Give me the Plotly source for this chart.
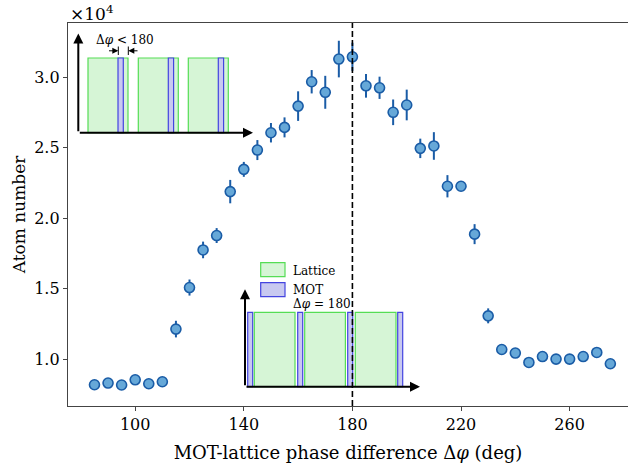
import plotly.graph_objects as go

# ---------------- data ----------------
phase_deg = [85, 90, 95, 100, 105, 110, 115, 120, 125, 130, 135, 140, 145, 150, 155,
             160, 165, 170, 175, 180, 185, 190, 195, 200, 205, 210, 215, 220, 225,
             230, 235, 240, 245, 250, 255, 260, 265, 270, 275]
atom_number_1e4 = [0.818, 0.830, 0.816, 0.853, 0.825, 0.839, 1.213, 1.508, 1.775, 1.877,
                   2.189, 2.347, 2.484, 2.607, 2.645, 2.796, 2.969, 2.894, 3.130, 3.146,
                   2.940, 2.926, 2.752, 2.804, 2.496, 2.513, 2.227, 2.227, 1.887, 1.307,
                   1.068, 1.043, 0.976, 1.018, 1.000, 1.000, 1.018, 1.047, 0.967]
atom_err_1e4 = [0.02, 0.02, 0.02, 0.02, 0.02, 0.02, 0.059, 0.057, 0.059, 0.053,
                0.083, 0.053, 0.071, 0.069, 0.071, 0.105, 0.083, 0.117, 0.130, 0.100,
                0.084, 0.079, 0.091, 0.109, 0.069, 0.098, 0.079, 0.025, 0.071, 0.053,
                0.02, 0.02, 0.02, 0.02, 0.02, 0.02, 0.02, 0.02, 0.02]
x_ticks = [100, 140, 180, 220, 260]
y_ticks = [1.0, 1.5, 2.0, 2.5, 3.0]
resonance_deg = 180

# ---------------- layout geometry (pixels) ----------------
W, H = 628, 470
L, T, B = 68, 23, 64
PW, PH = W - L, H - T - B

FONT = "DejaVu Serif"
MARK_FILL = "#66a8d8"
MARK_EDGE = "#1a5ca6"
GREEN_FILL = "#d6f5d6"
GREEN_EDGE = "#55dd55"
BLUE_FILL = "#c8c9f0"
BLUE_EDGE = "#4444e0"


def px(xp):
    return (xp - L) / PW


def py(yp):
    return (H - B - yp) / PH


fig = go.Figure()
fig.add_trace(go.Scatter(
    x=phase_deg, y=atom_number_1e4, mode="markers",
    error_y=dict(type="data", array=atom_err_1e4, visible=True,
                 color=MARK_EDGE, thickness=2, width=0),
    marker=dict(size=10, color=MARK_FILL, line=dict(color=MARK_EDGE, width=1.6)),
    showlegend=False, hoverinfo="skip",
))

shapes = []
annotations = []

# dashed resonance line
shapes.append(dict(type="line", xref="x", yref="paper", x0=resonance_deg, x1=resonance_deg,
                   y0=0, y1=1, line=dict(color="black", width=1.6, dash="6px,3px"), layer="above"))


def rect(x0, x1, y0, y1, fill, edge):
    shapes.append(dict(type="rect", xref="paper", yref="paper",
                       x0=px(x0), x1=px(x1), y0=py(y1), y1=py(y0),
                       fillcolor=fill, line=dict(color=edge, width=1.2), layer="below"))


def seg(x0, y0, x1, y1, w=1.0, layer="below"):
    shapes.append(dict(type="line", xref="paper", yref="paper",
                       x0=px(x0), x1=px(x1), y0=py(y0), y1=py(y1),
                       line=dict(color="black", width=w), layer=layer))


def arrow(tx, ty, fx, fy, w=1.8, size=1.0, head=2):
    annotations.append(dict(xref="paper", yref="paper", x=px(tx), y=py(ty),
                            ax=fx - tx, ay=fy - ty,
                            showarrow=True, arrowhead=head, arrowsize=size,
                            arrowwidth=w, arrowcolor="black", text=""))


def label(text, xp, yp, size=12, xanchor="left"):
    annotations.append(dict(xref="paper", yref="paper", x=px(xp), y=py(yp), text=text,
                            showarrow=False, xanchor=xanchor, yanchor="middle",
                            font=dict(family=FONT, size=size, color="black")))


# ---- top-left inset (Δφ < 180) ----
base1, top1 = 132.7, 58
for g0 in (88, 138.3, 188.3):
    rect(g0, g0 + 40, top1, base1, GREEN_FILL, GREEN_EDGE)
    rect(g0 + 30, g0 + 35.3, top1, base1, BLUE_FILL, BLUE_EDGE)
arrow(78.3, 33.5, 78.3, base1, w=2)
arrow(253, base1, 78.3, base1, w=2)
seg(118.3, 46.5, 118.3, 55)
seg(128.3, 46.5, 128.3, 55)
arrow(118.3, 50.8, 107.5, 50.8, w=1, size=1.2)
arrow(128.3, 50.8, 139, 50.8, w=1, size=1.2)
label("Δ<i>φ</i> &lt; 180", 94, 39.5, size=12)

# ---- bottom inset (Δφ = 180) ----
base2, top2 = 386.7, 312.3
for b0 in (247.7, 297.7, 347.7, 397.7):
    rect(b0, b0 + 5, top2, base2, BLUE_FILL, BLUE_EDGE)
for g0 in (254.3, 304.7, 355.3):
    rect(g0, g0 + 40.7, top2, base2, GREEN_FILL, GREEN_EDGE)
arrow(245, 289.3, 245, base2, w=2)
arrow(420, base2, 245, base2, w=2)
rect(260.7, 285, 262.7, 276.7, GREEN_FILL, GREEN_EDGE)
rect(260.7, 285, 282.7, 296.7, BLUE_FILL, BLUE_EDGE)
label("Lattice", 290.5, 270.5, size=12)
label("MOT", 290.5, 289.5, size=12)
label("Δ<i>φ</i> = 180", 290.5, 303.5, size=12)

# ×10^4 offset text
annotations.append(dict(xref="paper", yref="paper", x=px(68), y=py(13), text="×10<sup>4</sup>",
                        showarrow=False, xanchor="left", yanchor="middle",
                        font=dict(family=FONT, size=17, color="black")))

fig.update_layout(
    width=W, height=H,
    margin=dict(l=L, r=0, t=T, b=B, autoexpand=False),
    paper_bgcolor="white", plot_bgcolor="white",
    font=dict(family=FONT, size=16, color="black"),
    shapes=shapes, annotations=annotations,
    xaxis=dict(range=[75.25, 281.5], tickvals=x_ticks, ticks="outside", ticklen=4,
               tickwidth=1, tickcolor="#444", showline=True, linecolor="#444", linewidth=1.3,
               mirror=True, showgrid=False, zeroline=False, automargin=False,
               title=dict(text="MOT-lattice phase difference Δ<i>φ</i> (deg)", standoff=13,
                          font=dict(size=18))),
    yaxis=dict(range=[0.667, 3.386], tickvals=y_ticks, tickformat=".1f", ticks="outside",
               ticklen=4, tickwidth=1, tickcolor="#444", showline=True, linecolor="#444",
               linewidth=1.3, mirror=False, showgrid=False, zeroline=False, automargin=False,
               title=dict(text="Atom number", standoff=4, font=dict(size=17))),
)

fig.write_html("out.html", config={"displayModeBar": False},
               post_script="document.body.style.margin='0px';")
